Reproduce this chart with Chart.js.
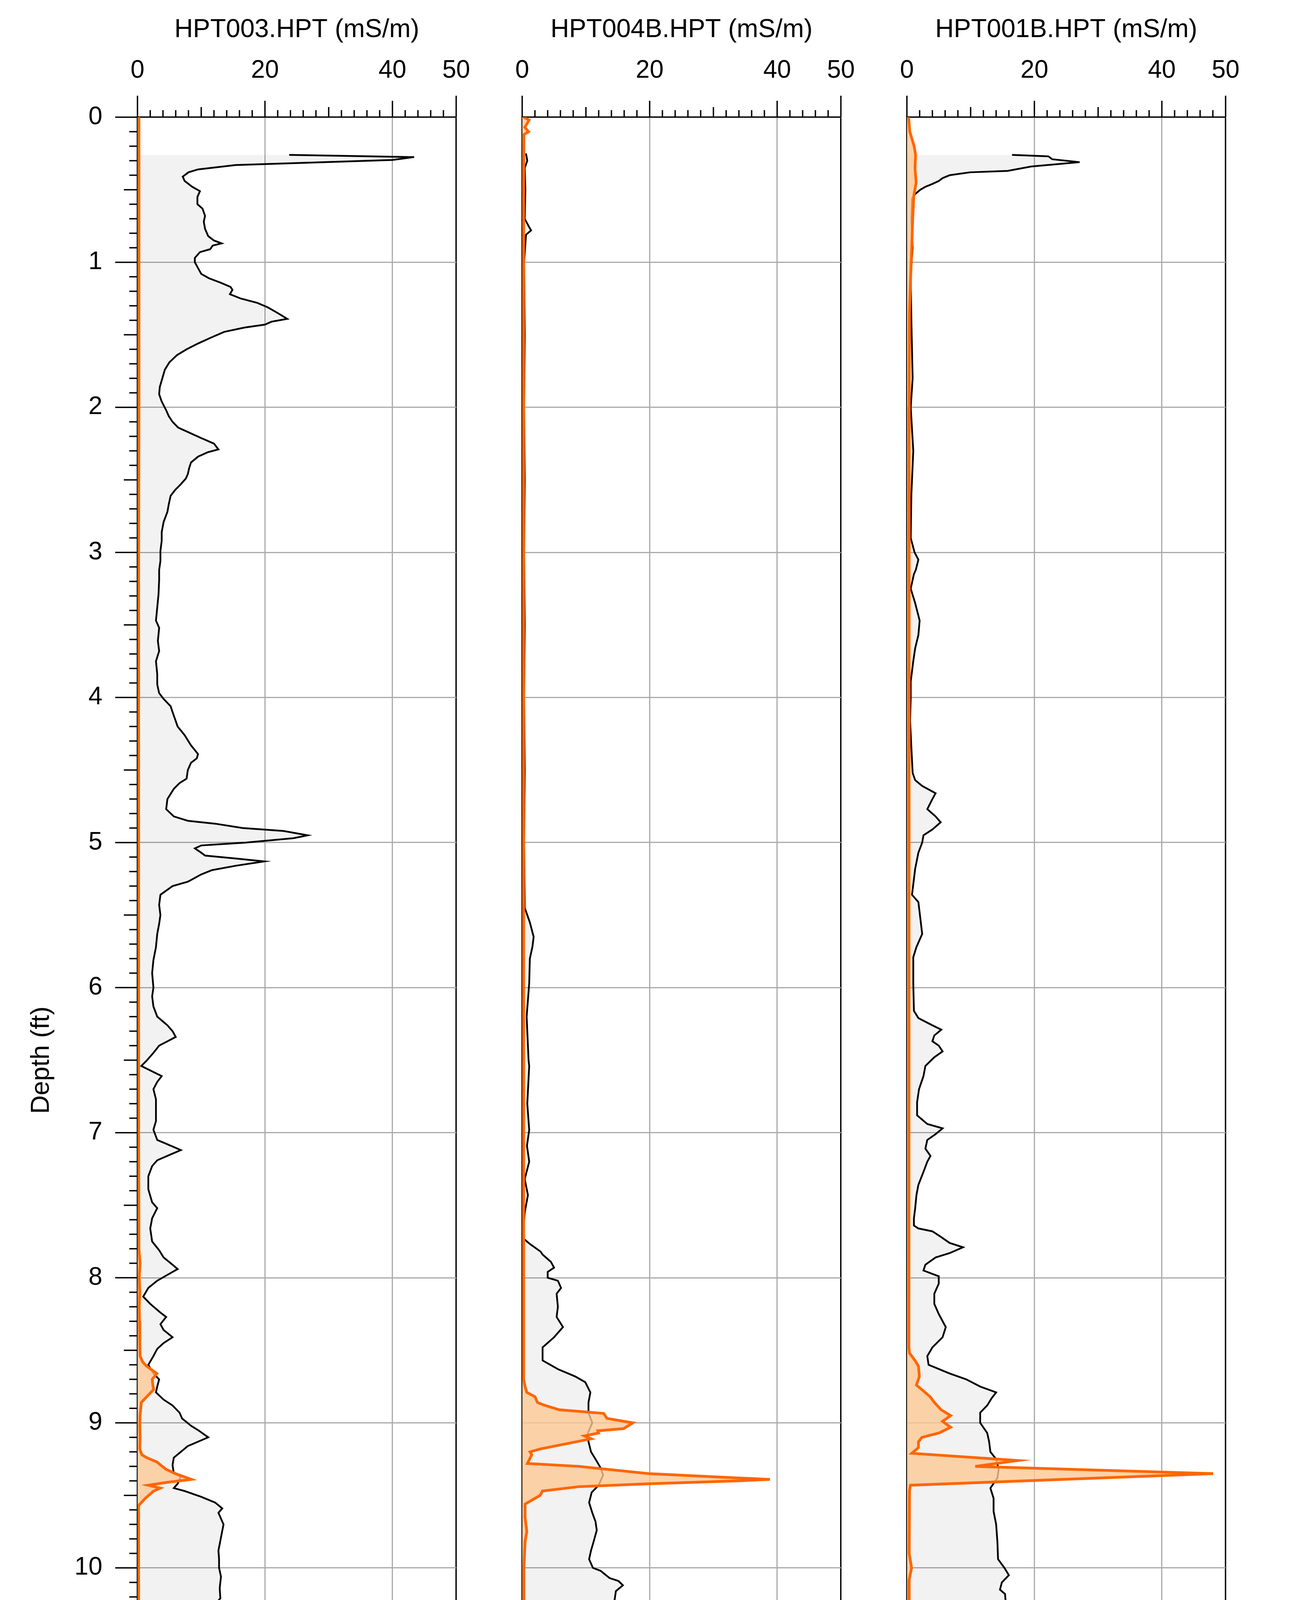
<!DOCTYPE html>
<html>
<head>
<meta charset="utf-8">
<title>EC / LIF logs</title>
<script src="https://cdn.jsdelivr.net/npm/chart.js@4.4.1/dist/chart.umd.min.js"></script>
<style>
  html, body { margin: 0; padding: 0; background: #fff; }
  body { width: 3308px; height: 5552px; position: relative; overflow: hidden; }
  canvas { position: absolute; top: 0; }
</style>
</head>
<body>
<canvas id="p1" width="1295" height="5552" style="left:0px"></canvas>
<canvas id="p2" width="1295" height="5552" style="left:985px"></canvas>
<canvas id="p3" width="1295" height="5552" style="left:1970px"></canvas>
<script>
// tick labels
const ecTicks = [0, 20, 40, 50];
const lifTicks = [0, 50, 110];
const panelTitles = ["HPT003.HPT (mS/m)", "HPT004B.HPT (mS/m)", "HPT001B.HPT (mS/m)"];

// HPT003 - EC (mS/m) against depth (ft)
const hpt003EcDepth = [0.26,0.275,0.295,0.33,0.36,0.38,0.41,0.44,0.48,0.51,0.55,0.60,0.63,0.68,0.72,0.77,0.82,0.85,0.87,0.885,0.91,0.93,0.97,1.0,1.04,1.08,1.11,1.14,1.17,1.19,1.22,1.25,1.28,1.31,1.35,1.39,1.41,1.43,1.45,1.48,1.52,1.56,1.60,1.64,1.69,1.74,1.80,1.86,1.91,1.96,2.02,2.06,2.10,2.14,2.17,2.21,2.25,2.29,2.31,2.34,2.38,2.42,2.46,2.49,2.53,2.57,2.61,2.67,2.72,2.79,2.86,2.92,2.99,3.06,3.12,3.19,3.29,3.38,3.47,3.52,3.61,3.68,3.75,3.84,3.91,3.97,4.01,4.06,4.10,4.20,4.26,4.33,4.39,4.42,4.45,4.50,4.56,4.59,4.63,4.70,4.77,4.82,4.85,4.87,4.90,4.92,4.95,4.97,5.00,5.02,5.04,5.07,5.09,5.11,5.13,5.16,5.19,5.22,5.27,5.30,5.36,5.43,5.50,5.56,5.63,5.72,5.81,5.90,6.00,6.06,6.13,6.20,6.26,6.30,6.34,6.37,6.40,6.45,6.50,6.54,6.56,6.61,6.65,6.70,6.77,6.83,6.92,6.98,7.05,7.08,7.12,7.15,7.19,7.23,7.30,7.39,7.48,7.52,7.59,7.66,7.75,7.81,7.86,7.91,7.94,7.98,8.02,8.07,8.13,8.18,8.24,8.27,8.32,8.36,8.41,8.45,8.49,8.54,8.60,8.66,8.70,8.75,8.79,8.84,8.88,8.93,8.97,9.02,9.05,9.10,9.13,9.16,9.20,9.24,9.29,9.35,9.37,9.42,9.45,9.47,9.51,9.55,9.59,9.62,9.70,9.79,9.88,9.94,10.0,10.06,10.14,10.21,10.23,10.24,10.28,10.31,10.32,10.35,10.37,10.41,10.42,10.45,10.52,10.56,10.62,10.68,10.76,10.82,10.87,10.92,10.96,11.0,11.08,11.10,11.14,11.20,11.24,11.31,11.34,11.42,11.48,11.54,11.58,11.64,11.70,11.74,11.80,11.86,11.94,12.02,12.08,12.14,12.18,12.24,12.28,12.34,12.42,12.50,12.58,12.66,12.71,12.77,12.83,12.87,12.89,12.92,12.94];
const hpt003Ec = [23.8,43.4,40.0,15.4,9.5,8.0,7.1,7.4,8.6,9.8,9.4,9.4,10.2,10.6,10.4,10.6,11.1,12.0,13.2,11.8,11.4,9.8,9.0,9.0,9.5,10.0,11.2,13.0,14.6,14.9,14.5,16.2,18.8,20.4,22.0,23.5,21.0,20.0,16.8,13.6,11.5,9.5,7.7,6.2,5.0,4.3,3.9,3.5,3.4,3.8,4.5,4.9,5.5,6.4,7.9,9.9,12.0,12.7,11.0,9.5,8.4,8.1,7.9,7.6,6.8,5.9,5.2,4.9,4.7,4.1,3.8,3.8,3.6,3.6,3.4,3.4,3.3,3.1,2.9,3.4,3.2,3.4,2.9,3.1,3.1,3.4,4.1,5.2,5.5,6.3,7.4,8.4,9.5,9.3,8.4,7.9,7.7,6.6,5.7,4.7,4.5,5.7,7.9,12.2,16.5,22.9,26.7,24.5,17.0,10.0,9.0,10.0,10.6,15.4,19.9,15.4,11.7,10.0,7.9,5.5,3.6,3.4,3.6,3.4,3.1,2.9,2.5,2.3,2.5,2.3,2.5,3.1,4.7,5.5,6.0,4.7,3.4,2.5,1.5,0.6,1.5,3.8,3.1,2.5,2.9,2.9,2.9,2.5,3.1,4.7,6.8,5.2,3.1,2.3,1.7,1.7,2.3,3.1,2.3,2.0,2.3,3.4,4.1,5.5,6.3,4.7,3.1,1.7,0.9,2.0,3.6,4.5,3.6,4.1,5.5,4.1,3.1,2.5,1.7,2.5,3.4,3.1,2.9,4.1,5.5,6.6,7.0,8.4,9.5,11.1,9.5,7.9,6.8,5.7,5.5,5.7,6.8,6.3,5.7,7.4,10.0,12.2,13.3,12.7,13.5,13.1,12.7,12.8,12.8,13.1,12.9,13.0,12.6,13.3,13.6,14.0,17.0,17.0,21.8,15.1,15.0,13.0,13.8,14.4,13.6,13.9,13.8,14.4,15.0,14.8,14.6,13.4,9.7,8.7,7.8,7.1,7.8,8.2,7.7,7.1,7.6,6.9,7.4,6.9,6.8,6.3,5.9,5.7,5.6,6.3,6.7,7.2,6.8,6.5,6.0,5.3,4.6,4.4,4.3,5.3,4.6,4.1,4.4,5.0,5.5,5.2,4.8];

// HPT003 - LIF (%RE)
const hpt003LifDepth = [0,1,2,3,4,5,6,7,7.8,7.9,8.0,8.1,8.2,8.3,8.45,8.54,8.58,8.61,8.66,8.70,8.74,8.77,8.82,8.86,8.95,9.02,9.10,9.18,9.22,9.24,9.27,9.32,9.35,9.39,9.41,9.43,9.45,9.47,9.52,9.57,9.7,10.0,10.27,10.30,10.37,10.41,10.46,10.52,11,12,12.75];
const hpt003Lif = [0.5,0.5,0.5,0.4,0.4,0.4,0.4,0.4,0.5,0.9,0.6,0.8,0.6,0.7,0.8,0.9,1.8,3.2,6.7,5.1,5.3,5.6,3.2,1.3,0.9,0.8,0.9,0.8,1.5,3.2,6.7,9.8,13.1,18.6,10.3,3.7,7.9,5.6,2.7,0.4,0.4,0.4,0.4,2.2,2.9,2.5,1.0,0.5,0.4,0.4,0.4];

// HPT004B - EC (mS/m)
const hpt004bEcDepth = [0.25,0.3,0.35,0.5,0.7,0.75,0.78,0.81,1.0,1.5,2.0,2.5,3.0,3.5,4.0,4.5,5.0,5.45,5.55,5.65,5.72,5.8,5.97,6.2,6.5,6.54,6.8,6.98,7.09,7.2,7.32,7.43,7.55,7.66,7.73,7.77,7.82,7.84,7.89,7.93,7.96,8.0,8.02,8.07,8.11,8.20,8.27,8.34,8.41,8.48,8.57,8.63,8.68,8.72,8.79,8.86,8.93,9.0,9.07,9.13,9.20,9.25,9.31,9.36,9.43,9.48,9.55,9.62,9.68,9.74,9.82,9.88,9.94,10.0,10.02,10.07,10.09,10.12,10.16,10.22,10.27,10.34,10.37,10.46,10.51,10.58,10.66,10.72,10.78,10.85,10.89,10.94,11.02,11.10,11.17,11.20,11.26,11.31,11.34,11.40,11.44,11.50,11.56,11.62,11.66,11.71,11.78,11.86,11.92,11.98,12.02,12.08,12.14,12.20,12.24,12.27,12.32,12.34,12.40,12.46,12.54,12.62,12.69,12.75,12.79,12.87,12.91,12.96];
const hpt004bEc = [0.6,0.8,0.4,0.5,0.4,1.0,1.4,0.6,0.3,0.4,0.3,0.4,0.3,0.4,0.3,0.4,0.3,0.4,1.2,1.8,1.6,1.2,1.1,0.7,1.0,1.1,0.8,1.1,0.75,1.1,0.4,0.9,0.4,0.2,0.2,1.3,2.9,3.2,4.5,5.0,4.0,4.0,5.6,6.1,5.4,5.6,5.4,6.4,5.0,3.2,3.2,5.6,8.3,9.9,10.7,10.4,10.4,11.0,10.3,10.4,10.8,11.5,12.3,12.7,12.0,10.9,10.5,11.0,11.5,11.7,11.2,10.8,10.5,11.1,12.3,13.7,15.1,15.8,14.7,14.5,13.7,13.2,12.3,12.1,12.6,13.1,13.5,12.9,13.5,13.3,14.1,14.0,13.4,13.9,14.5,16.2,16.4,18.0,18.6,17.1,15.8,14.8,13.7,12.3,12.2,11.5,11.6,11.7,11.3,11.1,10.5,10.0,9.5,9.4,10.2,10.8,10.3,9.4,8.7,7.8,8.1,7.9,7.7,7.1,8.0,7.5,8.3,8.6];

// HPT004B - LIF (%RE)
const hpt004bLifDepth = [0,0.02,0.05,0.07,0.10,0.12,0.5,1,2,3,4,5,6,7,8,8.70,8.75,8.79,8.82,8.86,8.88,8.91,8.935,8.97,9.0,9.04,9.055,9.07,9.09,9.11,9.18,9.20,9.22,9.28,9.30,9.35,9.38,9.39,9.40,9.42,9.44,9.47,9.50,9.56,9.65,9.75,9.82,10,11,12,12.30];
const hpt004bLif = [0.5,2.4,1.5,0.9,2.2,0.6,0.5,0.5,0.5,0.5,0.5,0.5,0.5,0.5,0.5,0.5,1.0,1.6,4.4,5.3,7.9,12.8,28.1,29.3,38.2,35.0,26.1,26.4,21.5,23.8,6.2,2.7,3.3,1.8,19.5,43.7,74.3,85.5,74.3,43.7,19.5,7.0,6.2,1.0,1.0,1.6,1.0,0.6,0.6,0.6,0.6];

// HPT001B - EC (mS/m)
const hpt001bEcDepth = [0.26,0.27,0.29,0.31,0.34,0.37,0.38,0.40,0.42,0.44,0.46,0.48,0.50,0.53,0.56,0.7,0.9,1.1,1.4,1.8,2.0,2.3,2.6,2.9,3.0,3.05,3.12,3.15,3.25,3.35,3.47,3.52,3.57,3.66,3.75,3.89,4.0,4.16,4.39,4.52,4.57,4.61,4.66,4.70,4.77,4.82,4.86,4.91,4.95,5.00,5.07,5.18,5.36,5.41,5.52,5.63,5.72,5.79,5.97,6.16,6.21,6.26,6.29,6.33,6.37,6.40,6.44,6.48,6.54,6.61,6.70,6.79,6.88,6.94,6.97,7.01,7.05,7.11,7.16,7.20,7.27,7.36,7.43,7.52,7.59,7.64,7.66,7.68,7.72,7.76,7.79,7.83,7.86,7.91,7.95,7.99,8.04,8.11,8.18,8.25,8.34,8.41,8.48,8.54,8.60,8.66,8.70,8.75,8.79,8.83,8.88,8.93,9.0,9.07,9.13,9.20,9.25,9.32,9.38,9.45,9.52,9.61,9.70,9.82,9.94,10.0,10.05,10.10,10.15,10.18,10.24,10.29,10.36,10.46,10.54,10.60,10.65,10.70,10.74,10.80,10.83,10.88,10.94,11.0,11.06,11.12,11.18,11.24,11.28,11.32,11.37,11.42,11.48,11.52,11.57,11.64,11.69,11.73,11.76,11.80,11.84,11.87,11.91,11.96,12.0,12.06,12.12,12.18,12.26,12.34,12.40,12.46,12.49,12.53,12.56,12.61,12.66,12.71,12.72,12.73,12.77,12.81,12.87,12.91,12.94];
const hpt001bEc = [16.5,22.2,22.8,27.1,19.5,15.8,9.9,6.7,5.6,5.0,4.0,2.9,2.1,1.3,0.8,0.7,0.9,0.6,0.7,0.9,0.6,1.0,0.7,0.6,1.2,1.8,1.4,1.1,0.6,1.3,2.0,1.9,1.8,1.3,1.0,0.6,0.6,0.5,0.75,0.9,1.3,2.4,4.5,4.0,3.2,4.5,5.3,4.0,2.6,2.4,1.8,1.3,0.8,1.8,2.1,2.4,1.5,1.0,1.0,1.1,1.8,4.0,5.4,4.3,4.0,5.0,5.6,4.3,2.9,2.6,1.9,1.6,1.6,3.2,5.6,4.5,3.2,2.9,3.7,3.2,2.6,1.8,1.5,1.3,1.1,1.1,1.8,4.0,5.4,6.7,8.8,6.7,4.5,2.9,2.6,5.0,5.0,4.3,4.3,5.0,6.1,5.6,4.0,3.2,3.4,6.7,9.3,11.5,14.0,13.3,12.6,11.5,11.5,12.6,12.9,13.1,14.0,14.4,14.2,13.1,13.6,13.6,14.0,14.2,14.3,15.3,16.0,14.9,14.6,15.4,15.5,14.7,14.3,14.1,14.9,14.2,13.3,13.1,12.3,12.5,11.9,12.9,13.5,14.0,13.6,14.1,14.6,15.2,15.7,14.7,14.8,15.3,15.8,16.5,17.1,16.6,16.1,16.2,14.9,12.3,10.0,9.5,8.6,8.3,7.6,7.7,7.4,6.8,6.3,5.9,6.1,6.0,7.0,8.1,7.0,6.3,6.8,7.4,8.8,7.4,7.5,6.6,5.9,5.6,5.3];

// HPT001B - LIF (%RE)
const hpt001bLifDepth = [0,0.1,0.2,0.26,0.35,0.45,0.54,0.7,0.88,1.1,1.34,2.0,2.7,4,6,8,8.48,8.52,8.57,8.61,8.68,8.74,8.78,8.82,8.86,8.91,8.95,8.99,9.03,9.07,9.10,9.13,9.17,9.21,9.26,9.30,9.35,9.43,9.47,9.9,10.0,10.08,11,12,12.78];
const hpt001bLif = [0.6,1.0,2.5,3.0,2.8,3.2,2.4,2.0,1.7,1.3,0.9,0.8,0.7,0.7,0.7,0.7,0.7,0.9,2.8,4.0,4.3,3.3,5.7,8.0,9.5,11.8,15.1,12.3,15.1,11.1,5.2,4.0,4.0,1.7,38.3,23.6,105.7,1.2,0.9,0.8,1.6,0.8,0.7,0.7,0.7];

const FONT = "'Liberation Sans', Arial, Helvetica, sans-serif";
const ORANGE = "#ff6600";
Chart.defaults.font.family = FONT;

function pts(depths, values) {
  return depths.map((d, i) => ({ x: values[i], y: d }));
}

// minor / medium tick marks drawn from the chart's own scales
const tickMarks = {
  id: "tickMarks",
  afterDraw(chart, args, opts) {
    const { ctx, chartArea: a, scales } = chart;
    ctx.save();
    ctx.lineCap = "butt";
    ctx.strokeStyle = "#000";
    ctx.lineWidth = 3.5;
    for (let v = 0; v <= 50; v += 2) {
      const px = scales.x.getPixelForValue(v);
      const len = (v === 0 || v === 50) ? 55 : v % 20 === 0 ? 42 : v % 10 === 0 ? 26 : 18;
      ctx.beginPath(); ctx.moveTo(px, a.top); ctx.lineTo(px, a.top - len); ctx.stroke();
    }
    ctx.strokeStyle = ORANGE;
    ctx.lineWidth = 3;
    for (let v = 0; v <= 110; v += 5) {
      const px = scales.x2.getPixelForValue(v);
      const len = (v === 0 || v === 110) ? 57 : v % 50 === 0 ? 42 : v % 25 === 0 ? 27 : 17;
      ctx.beginPath(); ctx.moveTo(px, a.bottom); ctx.lineTo(px, a.bottom + len); ctx.stroke();
    }
    if (opts.depth) {
      ctx.strokeStyle = "#000";
      ctx.lineWidth = 3.5;
      for (let i = 0; i <= 130; i++) {
        const py = scales.y.getPixelForValue(i / 10);
        const len = i % 10 === 0 ? 57 : i % 5 === 0 ? 35 : 21;
        ctx.beginPath(); ctx.moveTo(a.left, py); ctx.lineTo(a.left - len, py); ctx.stroke();
      }
    }
    ctx.restore();
  }
};

function makePanel(id, title, ec, lif, first, last) {
  new Chart(document.getElementById(id), {
    type: "line",
    data: {
      datasets: [
        {
          label: "LIF",
          data: lif,
          xAxisID: "x2",
          yAxisID: "y",
          borderColor: ORANGE,
          borderWidth: 7,
          backgroundColor: "rgba(252, 200, 149, 0.8)",
          fill: "origin",
          pointRadius: 0,
          tension: 0
        },
        {
          label: "EC",
          data: ec,
          xAxisID: "x",
          yAxisID: "y",
          borderColor: "#000",
          borderWidth: 4.5,
          backgroundColor: "rgba(0, 0, 0, 0.05)",
          fill: "origin",
          pointRadius: 0,
          tension: 0
        }
      ]
    },
    options: {
      indexAxis: "y",
      responsive: false,
      animation: false,
      devicePixelRatio: 1,
      layout: { padding: { top: 0, bottom: 0, left: 0, right: 90 } },
      plugins: {
        legend: { display: false },
        tooltip: { enabled: false },
        tickMarks: { depth: first }
      },
      scales: {
        x: {
          type: "linear",
          position: "top",
          min: 0,
          max: 50,
          afterBuildTicks: (s) => { s.ticks = ecTicks.map((v) => ({ value: v })); },
          afterFit: (s) => { s.height = 300; },
          ticks: { color: "#000", font: { size: 64 }, padding: 80, autoSkip: false, maxRotation: 0 },
          grid: {
            drawTicks: false,
            color: (c) => c.tick && c.tick.value === 50 ? "#000" : c.tick && c.tick.value === 0 ? "rgba(0,0,0,0)" : "#aaaaaa",
            lineWidth: (c) => c.tick && c.tick.value === 50 ? 3.5 : 3
          },
          border: { display: true, color: "#000", width: 3.5 },
          title: { display: true, text: title, color: "#000", font: { size: 66 }, padding: { top: 37, bottom: 0 } }
        },
        x2: {
          type: "linear",
          axis: "x",
          position: "bottom",
          min: 0,
          max: 110,
          afterBuildTicks: (s) => { s.ticks = lifTicks.map((v) => ({ value: v })); },
          afterFit: (s) => { s.height = 424; },
          ticks: { color: ORANGE, font: { size: 64 }, padding: 76, autoSkip: false, maxRotation: 0 },
          grid: { display: false, drawTicks: false },
          border: { display: true, color: "#000", width: 5 },
          title: {
            display: last,
            text: "EC / LIF Response (%RE)",
            align: "end",
            color: "#000",
            font: { size: 66 },
            padding: { top: 0, bottom: 128 }
          }
        },
        y: {
          type: "linear",
          position: "left",
          reverse: true,
          min: 0,
          max: 13,
          afterFit: (s) => { s.width = 352; },
          ticks: { display: first, stepSize: 1, color: "#000", font: { size: 64 }, padding: 90, autoSkip: false },
          grid: {
            drawTicks: false,
            color: (c) => c.tick && (c.tick.value === 0 || c.tick.value === 13) ? "rgba(0,0,0,0)" : "#aaaaaa",
            lineWidth: 3
          },
          border: { display: true, color: "#000", width: 3.5 },
          title: { display: first, text: "Depth (ft)", color: "#000", font: { size: 66 }, padding: { top: 67, bottom: 0 } }
        }
      }
    },
    plugins: [tickMarks]
  });
}

makePanel("p1", panelTitles[0], pts(hpt003EcDepth, hpt003Ec), pts(hpt003LifDepth, hpt003Lif), true, false);
makePanel("p2", panelTitles[1], pts(hpt004bEcDepth, hpt004bEc), pts(hpt004bLifDepth, hpt004bLif), false, false);
makePanel("p3", panelTitles[2], pts(hpt001bEcDepth, hpt001bEc), pts(hpt001bLifDepth, hpt001bLif), false, true);
</script>
</body>
</html>
